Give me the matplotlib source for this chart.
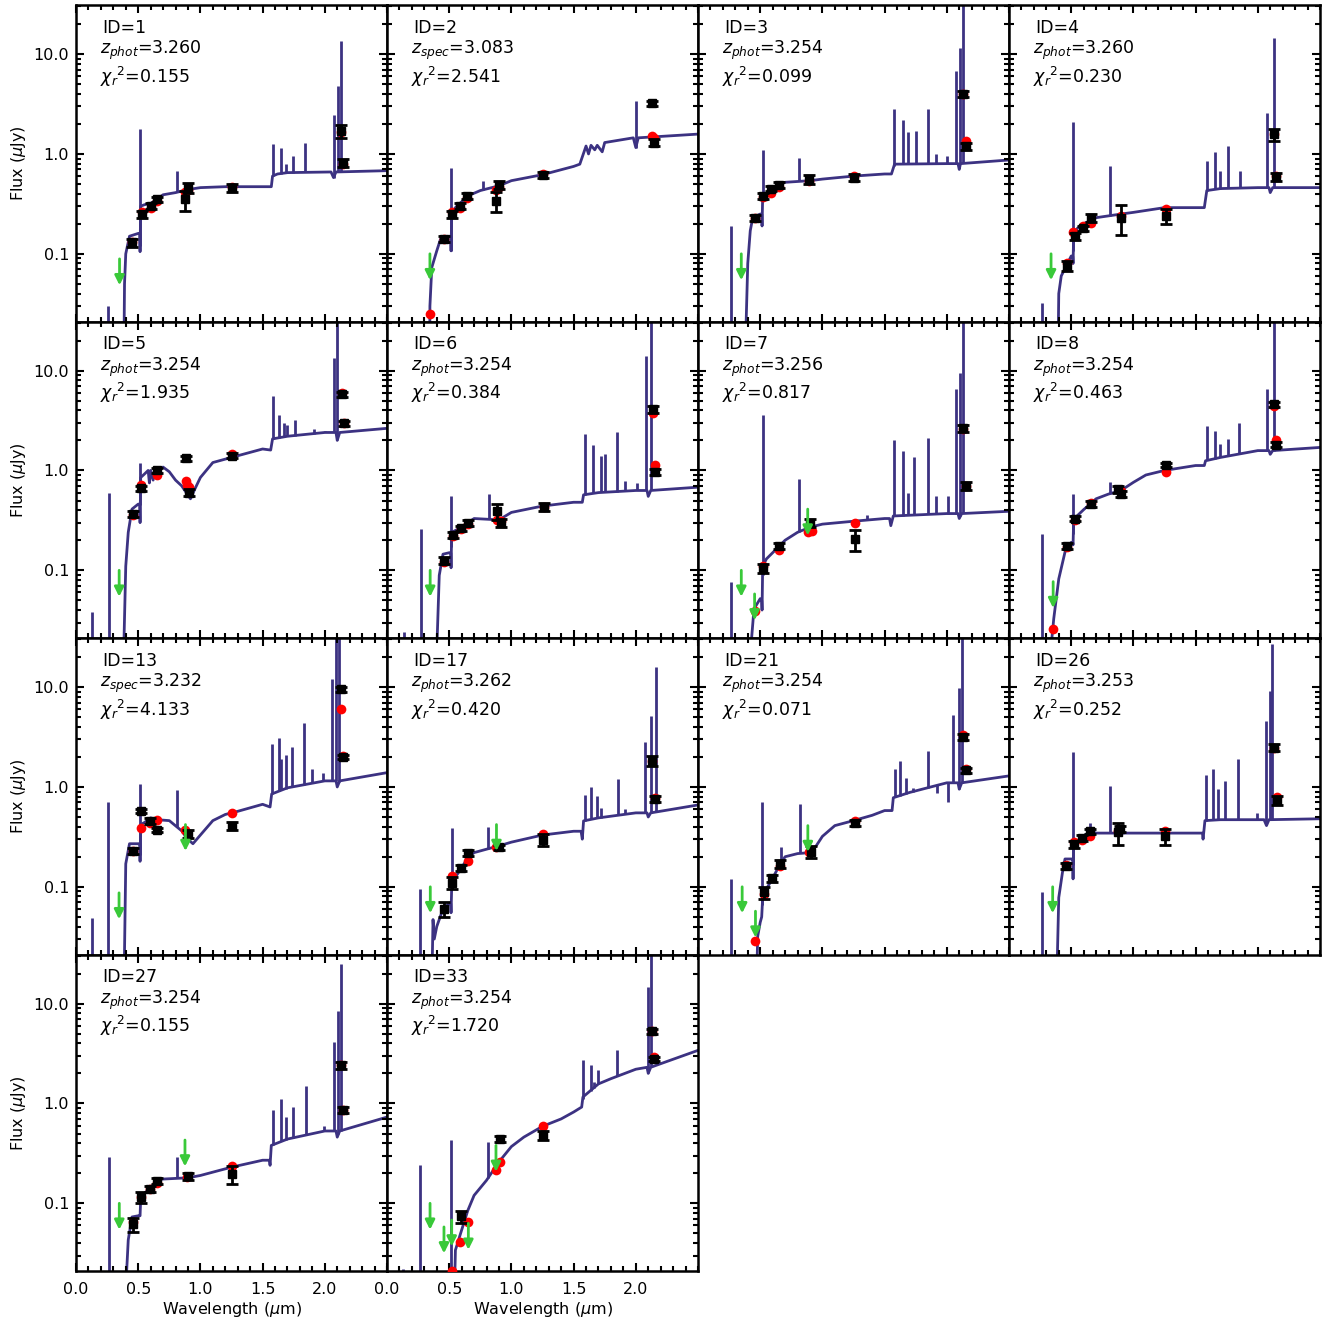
import numpy as np
import matplotlib
matplotlib.use('Agg')
from matplotlib import pyplot as plt
from matplotlib.ticker import MultipleLocator, LogLocator

panel_ids = [1, 2, 3, 4, 5, 6, 7, 8, 13, 17, 21, 26, 27, 33]
z_kind = ['phot', 'spec', 'phot', 'phot', 'phot', 'phot', 'phot', 'phot',
          'spec', 'phot', 'phot', 'phot', 'phot', 'phot']
z_values = ['3.260', '3.083', '3.254', '3.260', '3.254', '3.254', '3.256', '3.254',
            '3.232', '3.262', '3.254', '3.253', '3.254', '3.254']
chi2_values = ['0.155', '2.541', '0.099', '0.230', '1.935', '0.384', '0.817', '0.463',
               '4.133', '0.420', '0.071', '0.252', '0.155', '1.720']

# model continuum (wavelength um, flux uJy)
continuum = [
    [(0.385, 0.01), (0.39, 0.05), (0.40, 0.1), (0.43, 0.15), (0.50, 0.16), (0.512, 0.16), (0.515, 0.105),
     (0.52, 0.3), (0.55, 0.31), (0.60, 0.32), (0.65, 0.35), (0.70, 0.39), (0.80, 0.41), (0.90, 0.44),
     (1.00, 0.46), (1.20, 0.47), (1.57, 0.47), (1.58, 0.6), (1.62, 0.63), (1.70, 0.65), (2.05, 0.66),
     (2.07, 0.58), (2.09, 0.66), (2.50, 0.68)],
    [(0.343, 0.01), (0.345, 0.03), (0.36, 0.073), (0.40, 0.107), (0.43, 0.14), (0.50, 0.15), (0.512, 0.15),
     (0.515, 0.107), (0.52, 0.25), (0.55, 0.29), (0.65, 0.38), (0.75, 0.43), (0.90, 0.48), (1.00, 0.54),
     (1.25, 0.62), (1.50, 0.75), (1.55, 0.79), (1.60, 1.2), (1.62, 1.0), (1.64, 1.22), (1.67, 1.1),
     (1.69, 1.22), (1.73, 1.05), (1.75, 1.3), (1.98, 1.45), (2.00, 1.16), (2.02, 1.45), (2.50, 1.58)],
    [(0.38, 0.01), (0.40, 0.08), (0.42, 0.17), (0.44, 0.23), (0.50, 0.25), (0.512, 0.25), (0.515, 0.19),
     (0.52, 0.38), (0.60, 0.45), (0.70, 0.52), (0.90, 0.54), (1.00, 0.56), (1.25, 0.6), (1.50, 0.63),
     (1.555, 0.63), (1.58, 0.79), (2.00, 0.8), (2.09, 0.8), (2.10, 0.7), (2.11, 0.8), (2.50, 0.87)],
    [(0.394, 0.01), (0.40, 0.04), (0.42, 0.06), (0.47, 0.08), (0.50, 0.095), (0.512, 0.095), (0.515, 0.08),
     (0.52, 0.16), (0.55, 0.18), (0.60, 0.2), (0.70, 0.23), (0.90, 0.25), (1.00, 0.26), (1.25, 0.29),
     (1.57, 0.29), (1.59, 0.43), (1.70, 0.45), (2.00, 0.46), (2.09, 0.46), (2.10, 0.41), (2.12, 0.46),
     (2.50, 0.46)],
    [(0.38, 0.01), (0.40, 0.11), (0.42, 0.24), (0.45, 0.41), (0.50, 0.46), (0.512, 0.46), (0.515, 0.3),
     (0.52, 0.85), (0.55, 0.92), (0.58, 1.0), (0.59, 0.75), (0.60, 1.0), (0.62, 0.8), (0.63, 1.0),
     (0.70, 1.08), (0.75, 0.97), (0.80, 0.8), (0.85, 0.7), (0.92, 0.52), (0.95, 0.63), (1.00, 0.85),
     (1.10, 1.2), (1.25, 1.35), (1.50, 1.64), (1.565, 1.6), (1.58, 2.07), (1.70, 2.2), (2.00, 2.4),
     (2.09, 2.4), (2.10, 2.0), (2.12, 2.4), (2.50, 2.64)],
    [(0.395, 0.01), (0.42, 0.089), (0.45, 0.145), (0.50, 0.15), (0.512, 0.15), (0.515, 0.106), (0.52, 0.24),
     (0.60, 0.27), (0.70, 0.33), (0.90, 0.32), (1.00, 0.38), (1.25, 0.44), (1.50, 0.48), (1.57, 0.48),
     (1.58, 0.57), (1.70, 0.6), (2.00, 0.63), (2.09, 0.63), (2.10, 0.55), (2.12, 0.63), (2.50, 0.68)],
    [(0.41, 0.01), (0.45, 0.041), (0.50, 0.052), (0.512, 0.05), (0.515, 0.04), (0.52, 0.11), (0.55, 0.13),
     (0.60, 0.15), (0.70, 0.2), (0.80, 0.24), (0.90, 0.27), (1.00, 0.29), (1.25, 0.31), (1.50, 0.33),
     (1.54, 0.33), (1.55, 0.28), (1.57, 0.35), (2.00, 0.37), (2.09, 0.37), (2.10, 0.33), (2.12, 0.37),
     (2.50, 0.39)],
    [(0.32, 0.01), (0.36, 0.033), (0.40, 0.082), (0.45, 0.152), (0.50, 0.19), (0.512, 0.19), (0.515, 0.18),
     (0.52, 0.33), (0.55, 0.353), (0.60, 0.405), (0.70, 0.52), (0.80, 0.58), (0.90, 0.63), (1.00, 0.76),
     (1.10, 0.9), (1.25, 1.0), (1.50, 1.12), (1.57, 1.12), (1.58, 1.25), (1.70, 1.35), (2.00, 1.58),
     (2.09, 1.58), (2.10, 1.45), (2.12, 1.58), (2.50, 1.7)],
    [(0.386, 0.01), (0.40, 0.17), (0.43, 0.27), (0.50, 0.27), (0.512, 0.27), (0.515, 0.18), (0.52, 0.42),
     (0.55, 0.44), (0.60, 0.49), (0.65, 0.47), (0.75, 0.46), (0.85, 0.363), (0.90, 0.30), (0.94, 0.27),
     (1.00, 0.33), (1.10, 0.46), (1.20, 0.53), (1.30, 0.57), (1.50, 0.67), (1.56, 0.63), (1.573, 0.85),
     (1.70, 0.98), (2.00, 1.15), (2.09, 1.15), (2.10, 1.0), (2.12, 1.15), (2.50, 1.39)],
    [(0.36, 0.01), (0.37, 0.047), (0.38, 0.03), (0.40, 0.04), (0.45, 0.06), (0.50, 0.068), (0.512, 0.068),
     (0.515, 0.055), (0.52, 0.1), (0.53, 0.115), (0.60, 0.155), (0.65, 0.196), (0.70, 0.22), (0.80, 0.238),
     (0.90, 0.257), (1.00, 0.28), (1.25, 0.33), (1.50, 0.36), (1.56, 0.36), (1.57, 0.3), (1.58, 0.457),
     (1.70, 0.49), (2.00, 0.55), (2.09, 0.55), (2.10, 0.5), (2.12, 0.55), (2.50, 0.66)],
    [(0.47, 0.01), (0.48, 0.032), (0.50, 0.044), (0.512, 0.05), (0.52, 0.078), (0.55, 0.095), (0.60, 0.122),
     (0.65, 0.16), (0.70, 0.2), (0.80, 0.215), (0.90, 0.22), (0.95, 0.257), (1.00, 0.32), (1.10, 0.41),
     (1.25, 0.46), (1.40, 0.52), (1.50, 0.58), (1.56, 0.58), (1.57, 0.78), (1.70, 0.88), (2.00, 1.1),
     (2.09, 1.1), (2.10, 0.95), (2.12, 1.1), (2.50, 1.29)],
    [(0.383, 0.01), (0.40, 0.078), (0.43, 0.14), (0.45, 0.19), (0.50, 0.19), (0.512, 0.19), (0.515, 0.12),
     (0.52, 0.27), (0.60, 0.32), (0.65, 0.36), (0.70, 0.345), (1.50, 0.345), (1.555, 0.345), (1.56, 0.3),
     (1.575, 0.46), (1.70, 0.47), (2.05, 0.47), (2.07, 0.41), (2.09, 0.47), (2.50, 0.48)],
    [(0.394, 0.01), (0.42, 0.043), (0.45, 0.073), (0.50, 0.075), (0.515, 0.075), (0.52, 0.11), (0.53, 0.12),
     (0.60, 0.143), (0.65, 0.17), (0.70, 0.175), (0.90, 0.18), (1.00, 0.19), (1.25, 0.23), (1.50, 0.27),
     (1.555, 0.27), (1.56, 0.24), (1.57, 0.38), (1.70, 0.44), (2.00, 0.53), (2.09, 0.53), (2.10, 0.46),
     (2.12, 0.53), (2.50, 0.73)],
    [(0.54, 0.01), (0.55, 0.034), (0.60, 0.054), (0.65, 0.085), (0.70, 0.12), (0.80, 0.17), (0.90, 0.26),
     (1.00, 0.37), (1.10, 0.46), (1.25, 0.59), (1.40, 0.70), (1.50, 0.82), (1.565, 0.92), (1.575, 1.16),
     (1.70, 1.57), (1.80, 1.77), (2.00, 2.2), (2.09, 2.3), (2.10, 2.0), (2.12, 2.3), (2.20, 2.5),
     (2.50, 3.4)],
]

# emission lines of the model: (wavelength, peak flux)
em_lines = [
    [(0.26, 0.03), (0.514, 1.77), (0.81, 0.68), (1.586, 1.25), (1.648, 1.16), (1.688, 0.79), (1.747, 0.95),
     (1.84, 1.3), (2.07, 2.45), (2.11, 4.8), (2.128, 13.5)],
    [(0.515, 0.73), (0.774, 0.54), (2.0, 3.4)],
    [(0.266, 0.19), (0.52, 1.1), (0.81, 0.92), (1.576, 2.8), (1.65, 2.2), (1.69, 1.66), (1.75, 1.7),
     (1.85, 2.8), (1.91, 1.0), (2.0, 0.95), (2.07, 6.8), (2.11, 11.5), (2.134, 40)],
    [(0.264, 0.032), (0.517, 2.1), (0.814, 0.76), (1.59, 0.85), (1.655, 1.05), (1.697, 0.68), (1.76, 1.2),
     (1.857, 0.67), (2.076, 2.55), (2.134, 14.5)],
    [(0.13, 0.038), (0.265, 0.6), (0.517, 1.19), (1.585, 5.6), (1.63, 3.6), (1.67, 2.96), (1.70, 2.85),
     (1.757, 3.2), (1.91, 2.6), (2.005, 2.5), (2.07, 13.5), (2.10, 40)],
    [(0.137, 0.024), (0.276, 0.26), (0.518, 0.56), (0.816, 0.58), (1.59, 2.3), (1.657, 1.8), (1.72, 1.4),
     (1.755, 1.45), (1.85, 2.4), (1.916, 0.78), (2.006, 0.75), (2.078, 14), (2.126, 40)],
    [(0.267, 0.077), (0.519, 3.6), (0.81, 0.82), (1.36, 0.36), (1.578, 2.03), (1.645, 1.56), (1.69, 0.6),
     (1.74, 1.35), (1.85, 2.1), (1.91, 0.55), (2.01, 0.55), (2.07, 6.5), (2.11, 9.4), (2.134, 40)],
    [(0.264, 0.23), (0.517, 0.58), (0.814, 0.76), (1.59, 2.8), (1.655, 2.5), (1.70, 1.86), (1.76, 2.07),
     (1.85, 3.0), (2.076, 6.5), (2.13, 40)],
    [(0.126, 0.049), (0.26, 0.70), (0.514, 1.06), (0.81, 0.93), (1.573, 2.67), (1.63, 3.1), (1.65, 1.9),
     (1.685, 2.1), (1.74, 2.5), (1.834, 4.4), (1.895, 1.5), (1.984, 1.38), (2.056, 12.1), (2.09, 40),
     (2.117, 40)],
    [(0.267, 0.095), (0.52, 0.39), (0.81, 0.4), (1.59, 0.83), (1.64, 1.0), (1.69, 0.82), (1.72, 0.62),
     (1.855, 1.2), (1.91, 0.6), (2.07, 2.8), (2.12, 5.1), (2.16, 16)],
    [(0.268, 0.12), (0.517, 0.7), (0.665, 0.25), (0.817, 0.68), (1.585, 1.5), (1.62, 1.82), (1.67, 1.24),
     (1.73, 0.98), (1.845, 2.29), (1.92, 0.86), (2.01, 0.7), (2.053, 5.3), (2.10, 9.8), (2.12, 40)],
    [(0.263, 0.088), (0.517, 2.24), (0.65, 0.44), (0.812, 1.02), (1.583, 1.31), (1.64, 1.52), (1.68, 0.95),
     (1.735, 1.15), (1.84, 1.89), (1.995, 0.55), (2.063, 4.57), (2.097, 9.1), (2.116, 26.8)],
    [(0.268, 0.29), (0.815, 0.29), (1.585, 0.86), (1.65, 1.11), (1.685, 0.73), (1.745, 0.92), (1.85, 1.51),
     (1.995, 0.6), (2.07, 4.1), (2.11, 8.5), (2.13, 25)],
    [(0.126, 0.022), (0.265, 0.24), (0.515, 0.43), (0.815, 0.41), (1.573, 2.7), (1.636, 2.4), (1.66, 1.63),
     (1.70, 2.14), (1.85, 3.4), (2.10, 14.6), (2.12, 40)],
]

# observed photometry: (wavelength, flux, error)
obs_points = [
    [(0.45, 0.13, 0.012), (0.53, 0.25, 0.02), (0.60, 0.30, 0.02), (0.65, 0.35, 0.02), (0.88, 0.35, 0.08),
     (0.90, 0.46, 0.05), (1.25, 0.46, 0.04), (2.13, 1.7, 0.25), (2.15, 0.81, 0.07)],
    [(0.458, 0.141, 0.01), (0.52, 0.25, 0.02), (0.587, 0.30, 0.02), (0.645, 0.38, 0.03), (0.88, 0.34, 0.08),
     (0.90, 0.49, 0.04), (1.25, 0.62, 0.04), (2.13, 3.2, 0.2), (2.15, 1.3, 0.1)],
    [(0.455, 0.23, 0.015), (0.526, 0.38, 0.025), (0.59, 0.45, 0.025), (0.649, 0.49, 0.03), (0.89, 0.56, 0.06),
     (1.257, 0.58, 0.05), (2.127, 4.0, 0.25), (2.153, 1.2, 0.1)],
    [(0.468, 0.076, 0.008), (0.527, 0.15, 0.012), (0.597, 0.18, 0.012), (0.662, 0.23, 0.02),
     (0.899, 0.23, 0.075), (1.26, 0.24, 0.04), (2.134, 1.57, 0.22), (2.15, 0.59, 0.05)],
    [(0.46, 0.367, 0.025), (0.524, 0.66, 0.04), (0.65, 1.0, 0.06), (0.883, 1.32, 0.08), (0.905, 0.6, 0.05),
     (1.256, 1.4, 0.08), (2.135, 5.8, 0.35), (2.157, 2.96, 0.15)],
    [(0.46, 0.125, 0.01), (0.531, 0.227, 0.015), (0.596, 0.264, 0.015), (0.654, 0.30, 0.02),
     (0.881, 0.39, 0.07), (0.913, 0.30, 0.03), (1.26, 0.435, 0.04), (2.136, 4.1, 0.3), (2.158, 0.96, 0.07)],
    [(0.526, 0.105, 0.012), (0.649, 0.177, 0.012), (0.904, 0.30, 0.03), (1.26, 0.205, 0.05),
     (2.127, 2.64, 0.2), (2.153, 0.70, 0.06)],
    [(0.468, 0.177, 0.012), (0.527, 0.33, 0.02), (0.662, 0.46, 0.03), (0.88, 0.65, 0.05), (0.90, 0.58, 0.04),
     (1.26, 1.14, 0.06), (2.134, 4.6, 0.3), (2.15, 1.81, 0.1)],
    [(0.455, 0.23, 0.015), (0.52, 0.575, 0.03), (0.595, 0.46, 0.03), (0.654, 0.37, 0.02), (0.903, 0.34, 0.03),
     (1.257, 0.41, 0.04), (2.128, 9.5, 0.5), (2.149, 2.0, 0.1)],
    [(0.455, 0.06, 0.01), (0.52, 0.109, 0.015), (0.597, 0.154, 0.01), (0.655, 0.22, 0.015),
     (0.904, 0.25, 0.015), (1.254, 0.295, 0.04), (2.133, 1.82, 0.2), (2.153, 0.76, 0.06)],
    [(0.533, 0.088, 0.012), (0.598, 0.122, 0.01), (0.656, 0.17, 0.015), (0.912, 0.224, 0.03),
     (1.26, 0.44, 0.03), (2.134, 3.16, 0.2), (2.157, 1.47, 0.08)],
    [(0.458, 0.162, 0.012), (0.522, 0.267, 0.02), (0.589, 0.31, 0.02), (0.651, 0.36, 0.02),
     (0.879, 0.35, 0.09), (0.892, 0.38, 0.03), (1.254, 0.32, 0.06), (2.133, 2.47, 0.2), (2.152, 0.74, 0.08)],
    [(0.461, 0.062, 0.01), (0.52, 0.115, 0.015), (0.595, 0.14, 0.01), (0.648, 0.168, 0.012),
     (0.903, 0.187, 0.015), (1.257, 0.195, 0.04), (2.128, 2.4, 0.2), (2.149, 0.86, 0.06)],
    [(0.592, 0.074, 0.01), (0.908, 0.44, 0.03), (1.25, 0.48, 0.05), (2.128, 5.3, 0.3), (2.147, 2.8, 0.15)],
]

# model photometry (red points)
model_points = [
    [(0.45, 0.13), (0.53, 0.26), (0.60, 0.29), (0.65, 0.34), (0.88, 0.42), (0.90, 0.44), (1.25, 0.47),
     (2.13, 1.65), (2.15, 0.8)],
    [(0.345, 0.025), (0.458, 0.14), (0.52, 0.26), (0.587, 0.29), (0.645, 0.36), (0.88, 0.44), (0.90, 0.47),
     (1.25, 0.63), (2.13, 1.5), (2.15, 1.45)],
    [(0.455, 0.23), (0.526, 0.37), (0.59, 0.41), (0.649, 0.47), (0.89, 0.54), (1.257, 0.60), (2.127, 4.0),
     (2.153, 1.35)],
    [(0.468, 0.08), (0.514, 0.165), (0.597, 0.19), (0.66, 0.205), (0.90, 0.24), (1.26, 0.28), (2.134, 1.6),
     (2.15, 0.6)],
    [(0.46, 0.36), (0.524, 0.72), (0.65, 0.9), (0.883, 0.79), (0.89, 0.72), (0.905, 0.68), (1.256, 1.45),
     (2.135, 6.0), (2.157, 3.0)],
    [(0.46, 0.12), (0.531, 0.22), (0.596, 0.26), (0.654, 0.29), (0.881, 0.32), (0.913, 0.31), (1.26, 0.43),
     (2.136, 3.8), (2.158, 1.13)],
    [(0.455, 0.039), (0.526, 0.11), (0.649, 0.16), (0.882, 0.24), (0.914, 0.25), (1.26, 0.30), (2.127, 2.6),
     (2.153, 0.7)],
    [(0.355, 0.026), (0.468, 0.17), (0.527, 0.32), (0.662, 0.47), (0.90, 0.62), (1.26, 0.97), (2.134, 4.4),
     (2.15, 2.03)],
    [(0.455, 0.23), (0.52, 0.39), (0.595, 0.44), (0.654, 0.47), (0.88, 0.37), (1.257, 0.55), (2.128, 6.1),
     (2.149, 2.05)],
    [(0.52, 0.128), (0.655, 0.18), (0.875, 0.25), (1.254, 0.34), (2.133, 1.82), (2.153, 0.78)],
    [(0.462, 0.029), (0.533, 0.085), (0.656, 0.16), (0.89, 0.224), (1.26, 0.46), (2.134, 3.3), (2.157, 1.5)],
    [(0.458, 0.165), (0.522, 0.28), (0.589, 0.295), (0.651, 0.32), (0.879, 0.36), (1.254, 0.36),
     (2.133, 2.47), (2.152, 0.8)],
    [(0.461, 0.065), (0.52, 0.115), (0.595, 0.14), (0.648, 0.16), (0.89, 0.185), (1.257, 0.235),
     (2.128, 2.4), (2.149, 0.85)],
    [(0.52, 0.021), (0.59, 0.041), (0.654, 0.065), (0.876, 0.217), (0.908, 0.26), (1.25, 0.59),
     (2.128, 5.3), (2.147, 2.9)],
]

# upper limits (green arrows): (wavelength, flux)
upper_limits = [
    [(0.35, 0.089)],
    [(0.345, 0.1)],
    [(0.348, 0.1)],
    [(0.338, 0.1)],
    [(0.347, 0.1)],
    [(0.347, 0.1)],
    [(0.348, 0.1), (0.455, 0.058), (0.882, 0.41)],
    [(0.355, 0.077)],
    [(0.346, 0.087), (0.88, 0.42)],
    [(0.348, 0.1), (0.88, 0.42)],
    [(0.355, 0.1), (0.462, 0.057), (0.883, 0.41)],
    [(0.351, 0.1)],
    [(0.348, 0.1), (0.876, 0.43)],
    [(0.346, 0.1), (0.458, 0.058), (0.52, 0.068), (0.654, 0.063), (0.876, 0.38)],
]

spec_color = '#3c3282'
arrow_color = '#39c939'

fig, axes = plt.subplots(4, 4, figsize=(13.37, 13.2), dpi=100)
fig.subplots_adjust(left=76 / 1337, right=1320 / 1337, bottom=1 - 1271 / 1320, top=1 - 5 / 1320,
                    wspace=0, hspace=0)

for i, pid in enumerate(panel_ids):
    ax = axes.flat[i]
    row, col = divmod(i, 4)

    cw = [p[0] for p in continuum[i]]
    cf = [p[1] for p in continuum[i]]
    ax.plot(cw, cf, color=spec_color, lw=2, zorder=1)

    # emission lines rise from the continuum
    lw_ = [p[0] for p in em_lines[i]]
    lt = [p[1] for p in em_lines[i]]
    base = 10 ** np.interp(lw_, cw, np.log10(cf))
    ax.vlines(lw_, base, lt, color=spec_color, lw=2, zorder=1)

    mw = [p[0] for p in model_points[i]]
    mf = [p[1] for p in model_points[i]]
    ax.plot(mw, mf, 'o', color='red', ms=7, mec='none', zorder=3)

    ow = [p[0] for p in obs_points[i]]
    of = [p[1] for p in obs_points[i]]
    oe = [p[2] for p in obs_points[i]]
    ax.errorbar(ow, of, yerr=oe, fmt='s', color='k', ms=6, capsize=4, capthick=2,
                elinewidth=2, zorder=4)

    for lx, ly in upper_limits[i]:
        ax.annotate('', xy=(lx, ly), xytext=(0, -19), textcoords='offset points',
                    arrowprops=dict(arrowstyle='<|-', color=arrow_color, lw=2,
                                    mutation_scale=14, shrinkA=0, shrinkB=0), zorder=5)

    ax.set_yscale('log')
    ax.set_xlim(0, 2.5)
    ax.set_ylim(0.021, 31)

    ax.set_xticks([0.0, 0.5, 1.0, 1.5, 2.0])
    ax.xaxis.set_minor_locator(MultipleLocator(0.1))
    ax.set_yticks([0.1, 1.0, 10.0])
    ax.yaxis.set_minor_locator(LogLocator(base=10, subs=np.arange(2, 10)))
    ax.tick_params(which='both', direction='in', top=True, right=True, width=1.5, labelsize=11.5)
    ax.tick_params(which='major', length=6)
    ax.tick_params(which='minor', length=3.5)
    ax.tick_params(axis='x', pad=8)
    ax.tick_params(axis='y', pad=5)

    if col == 0:
        ax.set_yticklabels(['0.1', '1.0', '10.0'])
        ax.yaxis.set_minor_formatter(plt.NullFormatter())
        ax.set_ylabel(r'Flux ($\mu$Jy)', fontsize=11.5)
    else:
        ax.set_yticklabels([])
        ax.yaxis.set_minor_formatter(plt.NullFormatter())
    if row == 3:
        ax.set_xticklabels(['0.0', '0.5', '1.0', '1.5', '2.0'])
        ax.set_xlabel(r'Wavelength ($\mu$m)', fontsize=11.5, labelpad=2)
    else:
        ax.set_xticklabels([])

    for s in ax.spines.values():
        s.set_linewidth(1.8)

    ax.text(0.084, 0.912, f'ID={pid}', transform=ax.transAxes, fontsize=12.5, va='baseline')
    ax.text(0.078, 0.845, r'$z_{%s}$=%s' % (z_kind[i], z_values[i]), transform=ax.transAxes,
            fontsize=12.5, va='baseline')
    ax.text(0.078, 0.754, r'$\chi_r{}^2$=%s' % chi2_values[i], transform=ax.transAxes,
            fontsize=12.5, va='baseline')

axes[3, 2].remove()
axes[3, 3].remove()

plt.savefig('out.png', dpi=100)
